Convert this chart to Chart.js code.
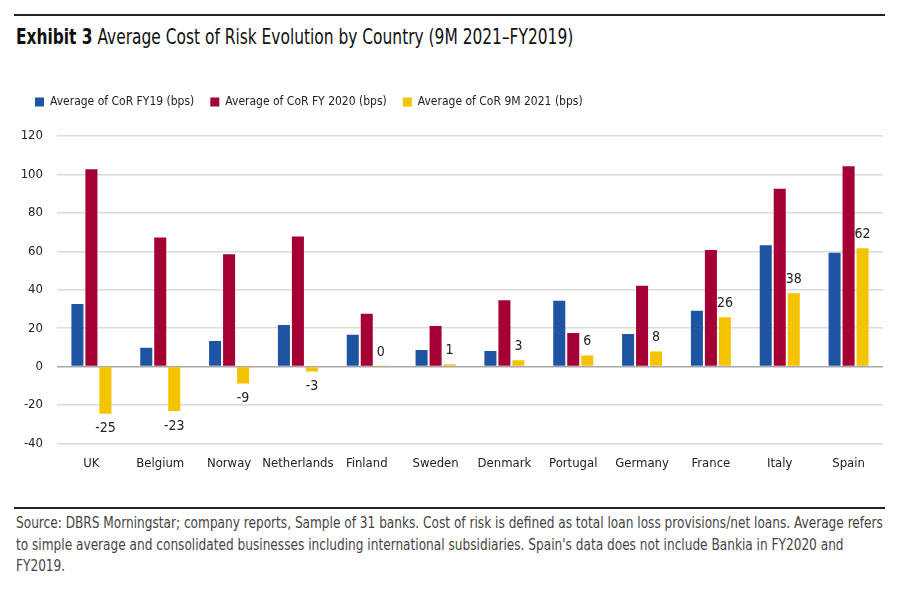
<!DOCTYPE html>
<html>
<head>
<meta charset="utf-8">
<script src="https://cdn.jsdelivr.net/npm/chart.js@4"></script>
<style>
  html, body { margin: 0; padding: 0; background: #fff; }
  body { width: 900px; height: 590px; position: relative; overflow: hidden;
         font-family: "DejaVu Sans Condensed", "Liberation Sans Narrow", sans-serif; }
  .rule { position: absolute; left: 14px; width: 871px; height: 2px; background: #222; }
  #title { position: absolute; left: 16px; top: 24px; font-size: 22px; color: #111; white-space: nowrap;
           transform: scaleX(0.78); transform-origin: 0 0; }
  #title b { font-weight: bold; }
  #foot { position: absolute; left: 16px; top: 513px; font-size: 15px; line-height: 21.5px; color: #444;
          white-space: nowrap; transform: scaleX(0.9); transform-origin: 0 0; }
  #wrap { position: absolute; left: 0; top: 80px; width: 900px; height: 405px; }
</style>
</head>
<body>
<div class="rule" style="top:14px"></div>
<div id="title"><b>Exhibit 3</b> Average Cost of Risk Evolution by Country (9M 2021–FY2019)</div>
<div id="wrap"><canvas id="c"></canvas></div>
<div class="rule" style="top:507px; height:1.5px"></div>
<div id="foot">Source: DBRS Morningstar; company reports, Sample of 31 banks. Cost of risk is defined as total loan loss provisions/net loans. Average refers<br>to simple average and consolidated businesses including international subsidiaries. Spain's data does not include Bankia in FY2020 and<br>FY2019.</div>
<script>
const countries = ["UK", "Belgium", "Norway", "Netherlands", "Finland", "Sweden", "Denmark", "Portugal", "Germany", "France", "Italy", "Spain"];
const seriesNames = ["Average of CoR FY19 (bps)", "Average of CoR FY 2020 (bps)", "Average of CoR 9M 2021 (bps)"];
const corFY19 = [32.5, 9.8, 13.3, 21.6, 16.6, 8.6, 8.1, 34.2, 16.9, 29.0, 63.2, 59.2];
const corFY20 = [102.7, 67.2, 58.5, 67.7, 27.5, 21.1, 34.5, 17.4, 42.0, 60.6, 92.6, 104.3];
const cor9M21 = [-24.6, -23.1, -8.8, -2.6, 0.2, 1.2, 3.3, 5.8, 7.8, 25.7, 38.2, 61.6];
const yTicks = [-40, -20, 0, 20, 40, 60, 80, 100, 120];
const colors = ["#1f54a3", "#a50034", "#f5c400"];

const FONT = '"DejaVu Sans Condensed", "Liberation Sans Narrow", sans-serif';

const labelPlugin = {
  id: 'yellowLabels',
  afterDatasetsDraw(chart) {
    const ctx = chart.ctx;
    const meta = chart.getDatasetMeta(2);
    const data = chart.data.datasets[2].data;
    ctx.save();
    ctx.font = '14px ' + FONT;
    ctx.fillStyle = '#222';
    ctx.textAlign = 'center';
    meta.data.forEach((el, i) => {
      const v = data[i];
      const txt = String(Math.round(v));
      if (v >= 0) {
        ctx.textBaseline = 'bottom';
        ctx.fillText(txt, el.x, el.y - 7);
      } else {
        ctx.textBaseline = 'top';
        ctx.fillText(txt, el.x, el.y + 8);
      }
    });
    ctx.restore();
  }
};

const legendGap = {
  id: 'legendGap',
  afterInit(chart) {
    const lg = chart.legend;
    if (!lg) return;
    const f = lg.fit;
    lg.fit = function () { f.call(this); this.height += 18; };
  }
};

new Chart(document.getElementById('c'), {
  type: 'bar',
  data: {
    labels: countries,
    datasets: [
      { label: seriesNames[0], data: corFY19, backgroundColor: colors[0] },
      { label: seriesNames[1], data: corFY20, backgroundColor: colors[1] },
      { label: seriesNames[2], data: cor9M21, backgroundColor: colors[2] }
    ]
  },
  options: {
    responsive: true,
    maintainAspectRatio: false,
    animation: false,
    datasets: { bar: { categoryPercentage: 0.61, barPercentage: 0.86 } },
    layout: { padding: { left: 19, right: 17, top: 0, bottom: 2 } },
    plugins: {
      legend: {
        position: 'top',
        align: 'start',
        labels: {
          boxWidth: 9, boxHeight: 9, padding: 16,
          color: '#222',
          font: { family: FONT, size: 12 }
        }
      },
      tooltip: { enabled: false }
    },
    scales: {
      x: {
        grid: { display: false, drawTicks: false },
        border: { display: false },
        ticks: { color: '#222', font: { family: FONT, size: 13 }, padding: 12, maxRotation: 0, autoSkip: false }
      },
      y: {
        min: -40, max: 120,
        afterBuildTicks(s) { s.ticks = yTicks.map(v => ({ value: v })); },
        afterFit(s) { s.width = 38; },
        border: { display: false },
        grid: {
          drawTicks: false,
          lineWidth: 1.5,
          color: c => (c.tick && c.tick.value === 0) ? '#a8a8a8' : '#dcdcdc'
        },
        ticks: { color: '#222', font: { family: FONT, size: 13 }, padding: 14 }
      }
    }
  },
  plugins: [labelPlugin, legendGap]
});
</script>
</body>
</html>
